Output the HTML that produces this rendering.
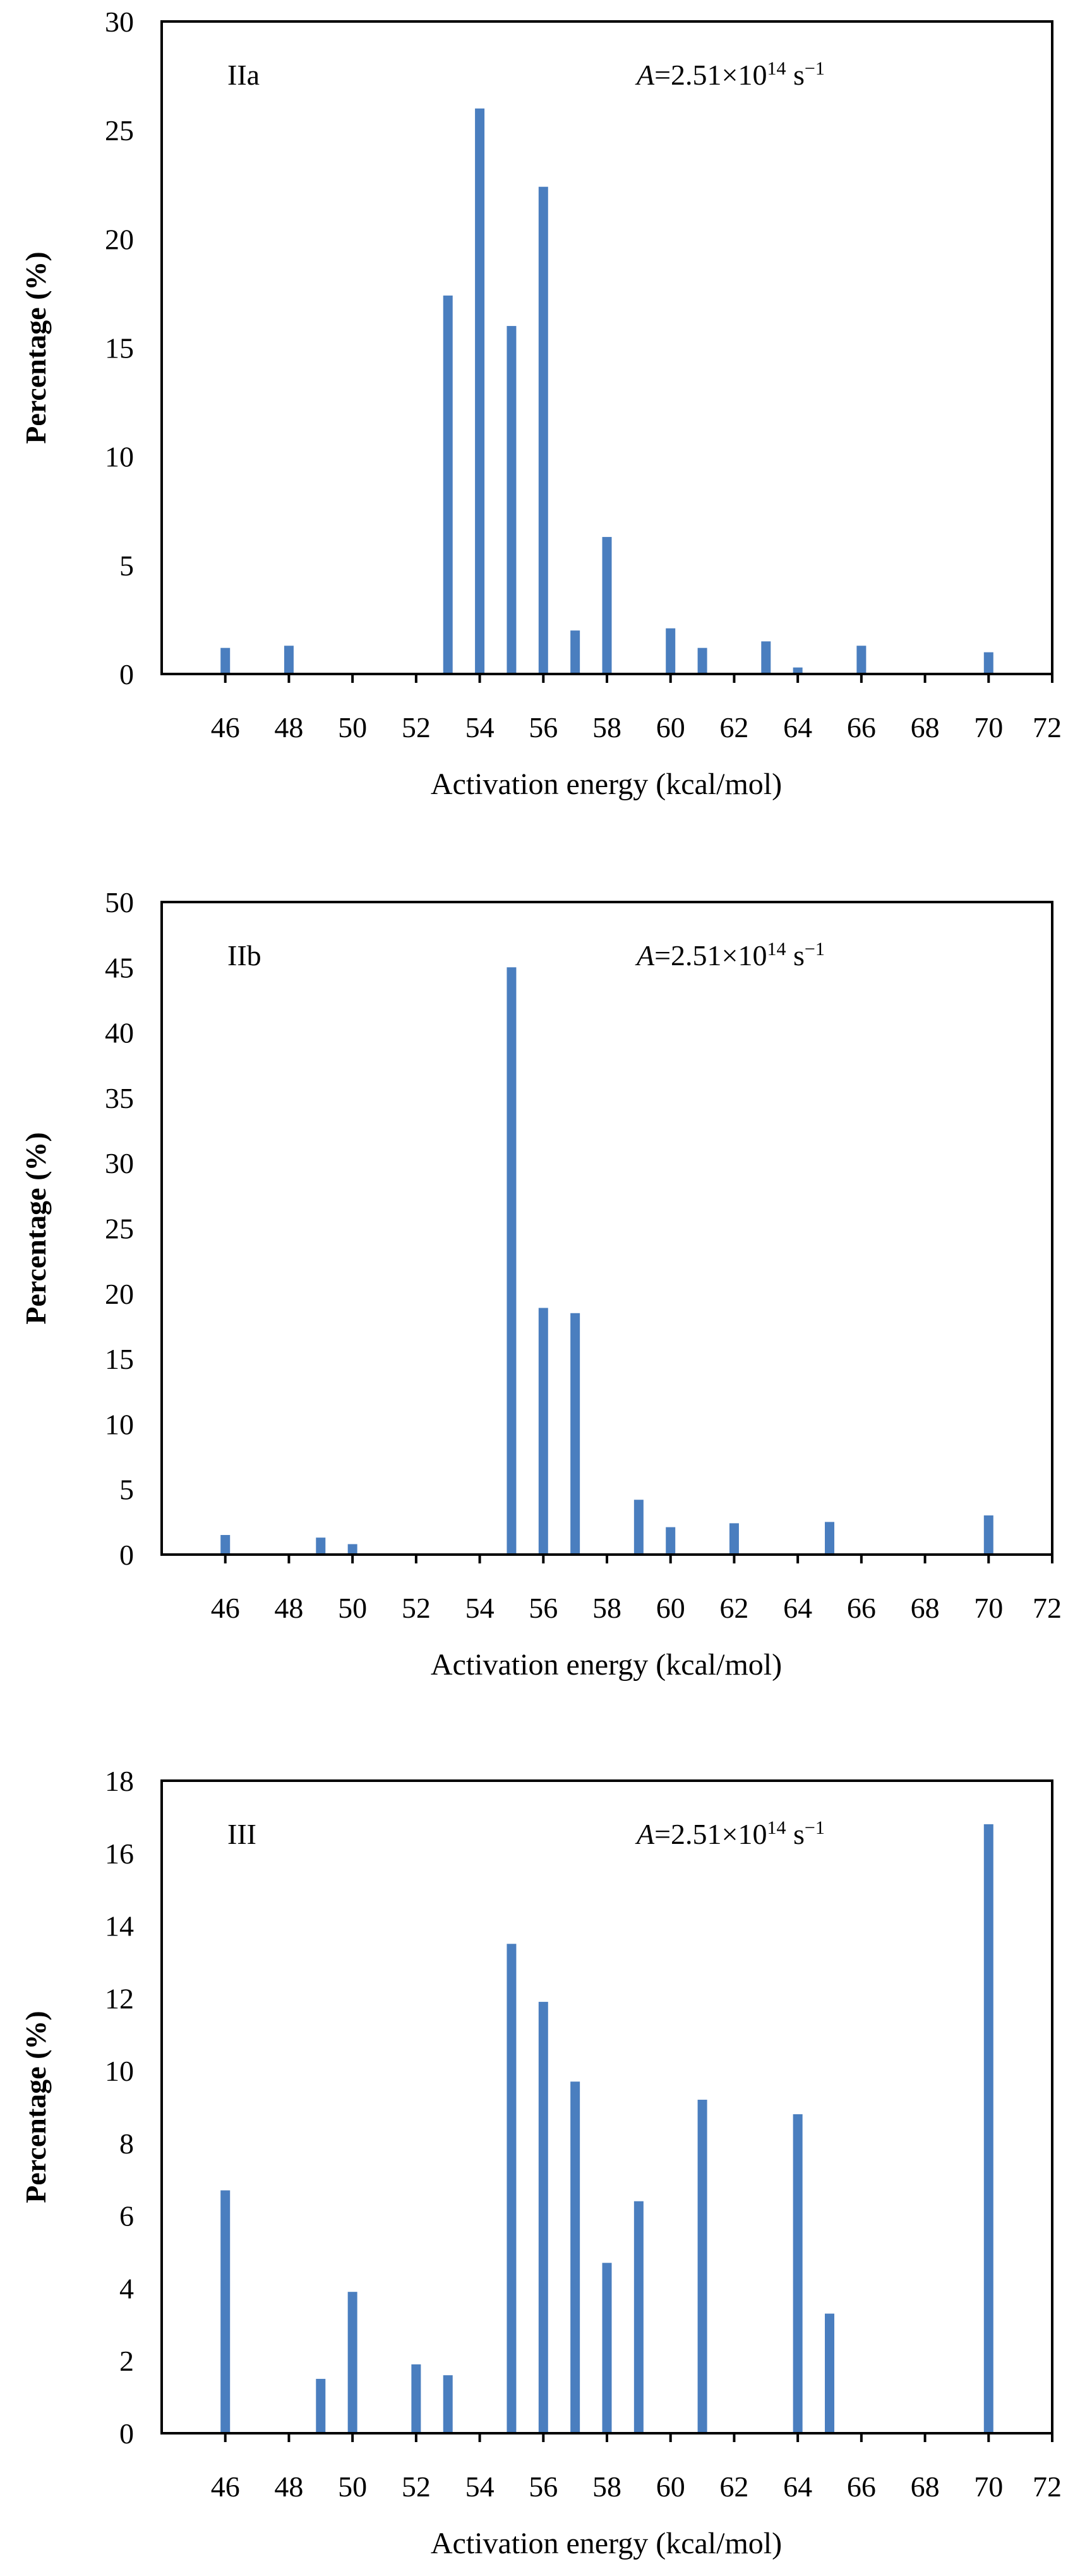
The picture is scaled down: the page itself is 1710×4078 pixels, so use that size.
<!DOCTYPE html>
<html><head><meta charset="utf-8"><style>
html,body{margin:0;padding:0;background:#fff;}
svg{display:block;font-family:"Liberation Serif",serif;}
</style></head><body>
<svg id="chart" width="1710" height="4078" viewBox="0 0 1710 4078"></svg>
<script>
const xTicks = [46,48,50,52,54,56,58,60,62,64,66,68,70,72];
const catsIIa = [46,48,53,54,55,56,57,58,60,61,63,64,65,66,70];
const valsIIa = [1.2,1.3,17.4,26,16,22.4,2,6.3,2.1,1.2,1.5,0.3,0.05,1.3,1.0];
const catsIIb = [46,49,50,55,56,57,59,60,62,65,70];
const valsIIb = [1.5,1.3,0.8,45,18.9,18.5,4.2,2.1,2.4,2.5,3.0];
const catsIII = [46,49,50,52,53,55,56,57,58,59,61,64,65,70];
const valsIII = [6.7,1.5,3.9,1.9,1.6,13.5,11.9,9.7,4.7,6.4,9.2,8.8,3.3,16.8];
const yTicksIIa = [0,5,10,15,20,25,30];
const yTicksIIb = [0,5,10,15,20,25,30,35,40,45,50];
const yTicksIII = [0,2,4,6,8,10,12,14,16,18];
const labels = ['IIa','IIb','III'];

const svg = document.getElementById('chart');
const NS = 'http://www.w3.org/2000/svg';
function mk(tag, attrs, parent){
  const e = document.createElementNS(NS, tag);
  for (const k in attrs) e.setAttribute(k, attrs[k]);
  (parent||svg).appendChild(e);
  return e;
}
const L = 256, R = 1666, H = 1033;
const xs = v => L + (v - 44) / 28 * (R - L);

function panel(top, cats, vals, yt, label, idx){
  const g = mk('g', {});
  
  
  const yMax = yt[yt.length-1];
  const ys = v => top + H - v / yMax * H;
  cats.forEach((c, i) => {
    const r = mk('rect', {x: xs(c) - 7.5, y: ys(vals[i]), width: 15, height: ys(0) - ys(vals[i]), fill: '#4a7ebf'}, g);
    
    
  });
  const box = mk('rect', {x: L, y: top, width: R - L, height: H, fill: 'none', stroke: '#000', 'stroke-width': 4}, g);
  
  
  xTicks.forEach(t => {
    mk('line', {x1: xs(t), x2: xs(t), y1: top + H, y2: top + H + 14, stroke: '#000', 'stroke-width': 4}, g);
    const tx = mk('text', {x: xs(t) - (t===72?8:0), y: top + H + 100, 'font-size': 46, 'text-anchor': 'middle'}, g);
    tx.textContent = t;
    
    
  });
  yt.forEach(t => {
    const ty = mk('text', {x: 212, y: ys(t) + 16, 'font-size': 46, 'text-anchor': 'end'}, g);
    ty.textContent = t;
    
    
  });
  const xt = mk('text', {x: 960, y: top + H + 190, 'font-size': 48, 'text-anchor': 'middle'}, g);
  xt.textContent = 'Activation energy (kcal/mol)';
  
  
  const cy = top + H/2;
  const yl = mk('text', {x: 0, y: 0, 'font-size': 46, 'font-weight': 'bold', 'text-anchor': 'middle', transform: `translate(72,${cy}) rotate(-90)`}, g);
  yl.textContent = 'Percentage (%)';
  
  
  const pl = mk('text', {x: 360, y: top + 100, 'font-size': 46}, g);
  pl.textContent = label;
  
  
  const an = mk('text', {x: 1008, y: top + 100, 'font-size': 46}, g);
  an.innerHTML = '<tspan font-style="italic">A</tspan>=2.51×10<tspan font-size="30" dy="-16">14</tspan><tspan dy="16"> s</tspan><tspan font-size="30" dy="-16">−1</tspan>';
  
  
}
panel(34, catsIIa, valsIIa, yTicksIIa, labels[0], 0);
panel(1428, catsIIb, valsIIb, yTicksIIb, labels[1], 1);
panel(2819, catsIII, valsIII, yTicksIII, labels[2], 2);
</script>
</body></html>
